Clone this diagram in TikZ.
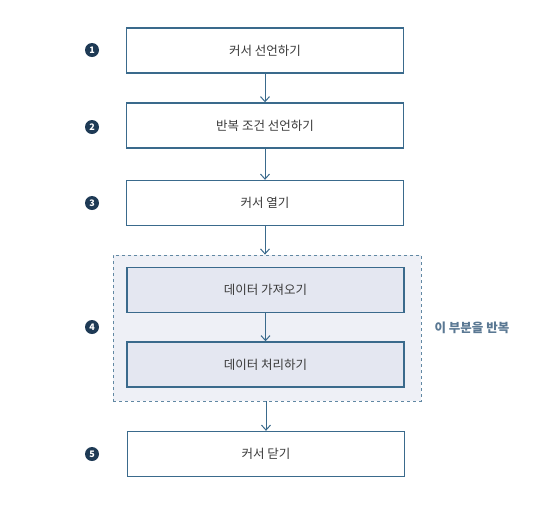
\documentclass[tikz,border=0pt]{standalone}
\usepackage{fontspec}
\setmainfont{Noto Sans CJK KR}
\usetikzlibrary{arrows.meta}
\definecolor{bordc}{HTML}{3A6A8C}
\definecolor{numc}{HTML}{1E3A55}
\definecolor{regfill}{HTML}{EEF0F6}
\definecolor{innfill}{HTML}{E4E7F1}
\definecolor{txtc}{HTML}{3A3A3A}
\definecolor{lblc}{HTML}{5A7893}
\tikzset{
  stepbox/.style={draw=bordc, line width=1.4pt, fill=white, minimum width=277pt, minimum height=45pt, inner sep=0pt, font=\fontsize{12.5}{14}\selectfont, text=txtc},
  innbox/.style={stepbox, fill=innfill},
  numdot/.style={circle, fill=numc, text=white, inner sep=0pt, minimum size=14pt, font=\fontsize{9}{9}\selectfont\bfseries},
  flow/.style={draw=bordc, line width=1pt, -{Straight Barb[length=5pt,width=9pt]}},
}
\begin{document}
\begin{tikzpicture}[x=1pt,y=-1pt]
\useasboundingbox (0,0) rectangle (553,507);
\fill[white] (0,0) rectangle (553,507);
\node[draw=bordc!80, dashed, line width=0.8pt, fill=regfill, minimum width=308pt, minimum height=146pt] (reg) at (267,328) {};
\node[stepbox] (b1) at (265,50.5) {커서 선언하기};
\node[stepbox] (b2) at (265,125.5) {반복 조건 선언하기};
\node[stepbox] (b3) at (265,203) {커서 열기};
\node[innbox] (b4) at (265.5,290) {데이터 가져오기};
\node[innbox] (b5) at (265.5,364.5) {데이터 처리하기};
\node[stepbox] (b6) at (266,454) {커서 닫기};
\node[numdot] (n1) at (92,50) {1};
\node[numdot] (n2) at (92,127) {2};
\node[numdot] (n3) at (92,203) {3};
\node[numdot] (n4) at (92,327) {4};
\node[numdot] (n5) at (92,454) {5};
\node[text=lblc, font=\fontsize{12.5}{14}\selectfont\bfseries, anchor=west] (lbl) at (431,328) {이 부분을 반복};
\draw[flow] (b1.south) -- (b2.north);
\draw[flow] (b2.south) -- (b3.north);
\draw[flow] (b3.south) -- (b3.south |- reg.north);
\draw[flow] (b4.south) -- (b5.north);
\draw[flow] (reg.south -| b6.north) -- (b6.north);
\end{tikzpicture}
\end{document}
